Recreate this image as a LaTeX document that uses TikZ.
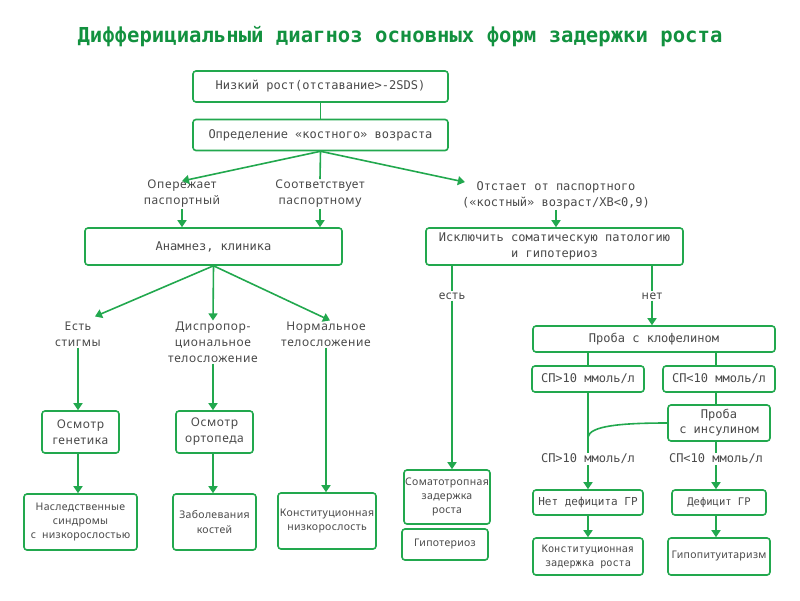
\documentclass[tikz,border=0pt]{standalone}
\usepackage{fontspec}
\setmainfont{Noto Sans}
\newfontfamily\monof{DejaVu Sans Mono}
\newfontfamily\lblf[LetterSpace=5]{Noto Sans}
\newfontfamily\smallf[LetterSpace=3]{Noto Sans}
\usetikzlibrary{arrows.meta,positioning,calc}
\definecolor{dgreen}{HTML}{12913F}
\definecolor{lgreen}{HTML}{22A84E}
\definecolor{txtgray}{HTML}{4A4A4A}
\tikzset{
  box/.style={draw=lgreen, line width=1.6pt, rounded corners=3pt, fill=white, align=center,
    inner sep=0pt, text=txtgray},
  mbox/.style={box, font=\monof\fontsize{12}{16}\selectfont},
  sbox/.style={box, font=\lblf\fontsize{12}{16}\selectfont},
  tbox/.style={box, font=\smallf\fontsize{10.5}{14}\selectfont},
  lbl/.style={align=center, inner sep=1pt, text=txtgray, font=\lblf\fontsize{12}{16}\selectfont},
  mlbl/.style={lbl, font=\monof\fontsize{12}{16}\selectfont},
  link/.style={draw=lgreen, line width=1.6pt},
  arr/.style={link, -{Triangle[width=9pt,length=7pt]}}
}
\begin{document}
\begin{tikzpicture}[x=1pt,y=-1pt]
  \useasboundingbox (0,0) rectangle (800,600);
  \node[font=\monof\bfseries\fontsize{20.6}{22}\selectfont, text=dgreen] (title) at (400,37)
    {Дифферициальный диагноз основных форм задержки роста};

  % top boxes
  \node[mbox, minimum width=255pt, minimum height=31pt] (low) at (320.5,86.5) {Низкий рост(отставание>-2SDS)};
  \node[mbox, minimum width=255pt, minimum height=31pt] (bone) at (320.5,135) {Определение «костного» возраста};
  \node[lbl] (ahead) at (182,194) {Опережает\\паспортный};
  \node[lbl] (equal) at (320,194) {Соответствует\\паспортному};
  \node[mlbl] (behind) at (556,195) {Отстает от паспортного\\(«костный» возраст/ХВ<0,9)};
  \node[mbox, minimum width=257pt, minimum height=37pt] (anam) at (213.5,246.5) {Анамнез, клиника};
  \node[mbox, minimum width=257pt, minimum height=37pt] (excl) at (554.5,246.5)
    {Исключить соматическую патологию\\и гипотериоз};

  % left branch
  \node[lbl] (stig) at (78,334) {Есть\\стигмы};
  \node[lbl] (disp) at (213,342) {Диспропор-\\циональное\\телосложение};
  \node[lbl] (norm) at (326,334) {Нормальное\\телосложение};
  \node[sbox, minimum width=77pt, minimum height=42pt] (gen) at (80.5,432) {Осмотр\\генетика};
  \node[sbox, minimum width=77pt, minimum height=42pt] (orth) at (214.5,432) {Осмотр\\ортопеда};
  \node[tbox, minimum width=113pt, minimum height=56pt] (hered) at (80.5,522)
    {Наследственные\\синдромы\\с~~низкорослостью};
  \node[tbox, minimum width=83pt, minimum height=56pt] (bones) at (214.5,522) {Заболевания\\костей};
  \node[tbox, minimum width=98pt, minimum height=56pt] (konst) at (327,521) {Конституционная\\низкорослость};

  % right branch
  \node[lbl] (yes) at (452,296) {есть};
  \node[lbl] (no) at (652,296) {нет};
  \node[tbox, minimum width=86pt, minimum height=54pt] (somat) at (447,497) {Соматотропная\\задержка\\роста};
  \node[tbox, minimum width=86pt, minimum height=31pt] (hypot) at (445,544.5) {Гипотериоз};
  \node[mbox, minimum width=242pt, minimum height=26pt] (clon) at (654,339) {Проба с клофелином};
  \node[mbox, minimum width=112pt, minimum height=26pt] (spa) at (588,379) {СП>10 ммоль/л};
  \node[mbox, minimum width=112pt, minimum height=26pt] (spb) at (719,379) {СП<10 ммоль/л};
  \node[mbox, minimum width=102pt, minimum height=36pt, font=\monof\fontsize{12}{15}\selectfont] (ins) at (719,423) {Проба\\с инсулином};
  \node[mlbl] (resa) at (588,459) {СП>10 ммоль/л};
  \node[mlbl] (resb) at (716,459) {СП<10 ммоль/л};
  \node[mbox, minimum width=110pt, minimum height=25pt, font=\monof\fontsize{11}{16}\selectfont] (nodef) at (588,502.5) {Нет дефицита ГР};
  \node[mbox, minimum width=94pt, minimum height=25pt, font=\monof\fontsize{10.5}{16}\selectfont] (def) at (719,502.5) {Дефицит ГР};
  \node[mbox, minimum width=110pt, minimum height=37pt, font=\monof\fontsize{10.2}{14}\selectfont] (kzr) at (588,556.5) {Конституционная\\задержка роста};
  \node[tbox, minimum width=102pt, minimum height=37pt] (hpit) at (719,556.5) {Гипопитуитаризм};
  \coordinate (merge) at (588,437);

  % connectors
  \draw[link] (low) -- (bone);
  \draw[arr] (bone.south) -- ($(ahead.north)+(0,2)$);
  \draw[link] (bone.south) -- (equal.north);
  \draw[arr] (bone.south) -- ($(behind.north west)+(4,2)$);
  \draw[arr] (ahead.south) -- (ahead.south |- anam.north);
  \draw[arr] (equal.south) -- (equal.south |- anam.north);
  \draw[arr] (behind.south) -- (behind.south |- excl.north);
  \draw[arr] (anam.south) -- ($(stig.north)+(17,-4)$);
  \draw[arr] (anam.south) -- (disp.north);
  \draw[arr] (anam.south) -- ($(norm.north)+(4,0)$);
  \draw[arr] (stig.south) -- (stig.south |- gen.north);
  \draw[arr] (disp.south) -- (disp.south |- orth.north);
  \draw[arr] (norm.south) -- (norm.south |- konst.north);
  \draw[arr] (gen.south -| stig) -- (stig |- hered.north);
  \draw[arr] (orth.south -| disp) -- (disp |- bones.north);
  \draw[link] (excl.south -| yes) -- (yes.north);
  \draw[link] (excl.south -| no) -- (no.north);
  \draw[arr] (yes.south) -- (yes.south |- somat.north);
  \draw[arr] (no.south) -- (no.south |- clon.north);
  \draw[link] (clon.south -| spa) -- (spa.north);
  \draw[link] (clon.south -| resb) -- (resb |- spb.north);
  \draw[link] (spb.south -| resb) -- (resb |- ins.north);
  \draw[link] (spa.south) -- (resa.north);
  \draw[link] (ins.west) .. controls (620,423) and (590,426) .. (merge);
  \draw[link] (ins.south -| resb) -- (resb.north);
  \draw[arr] (resa.south) -- (nodef.north);
  \draw[arr] (resb.south) -- (resb.south |- def.north);
  \draw[arr] (nodef.south) -- (kzr.north);
  \draw[arr] (def.south -| resb) -- (resb |- hpit.north);
\end{tikzpicture}
\end{document}
